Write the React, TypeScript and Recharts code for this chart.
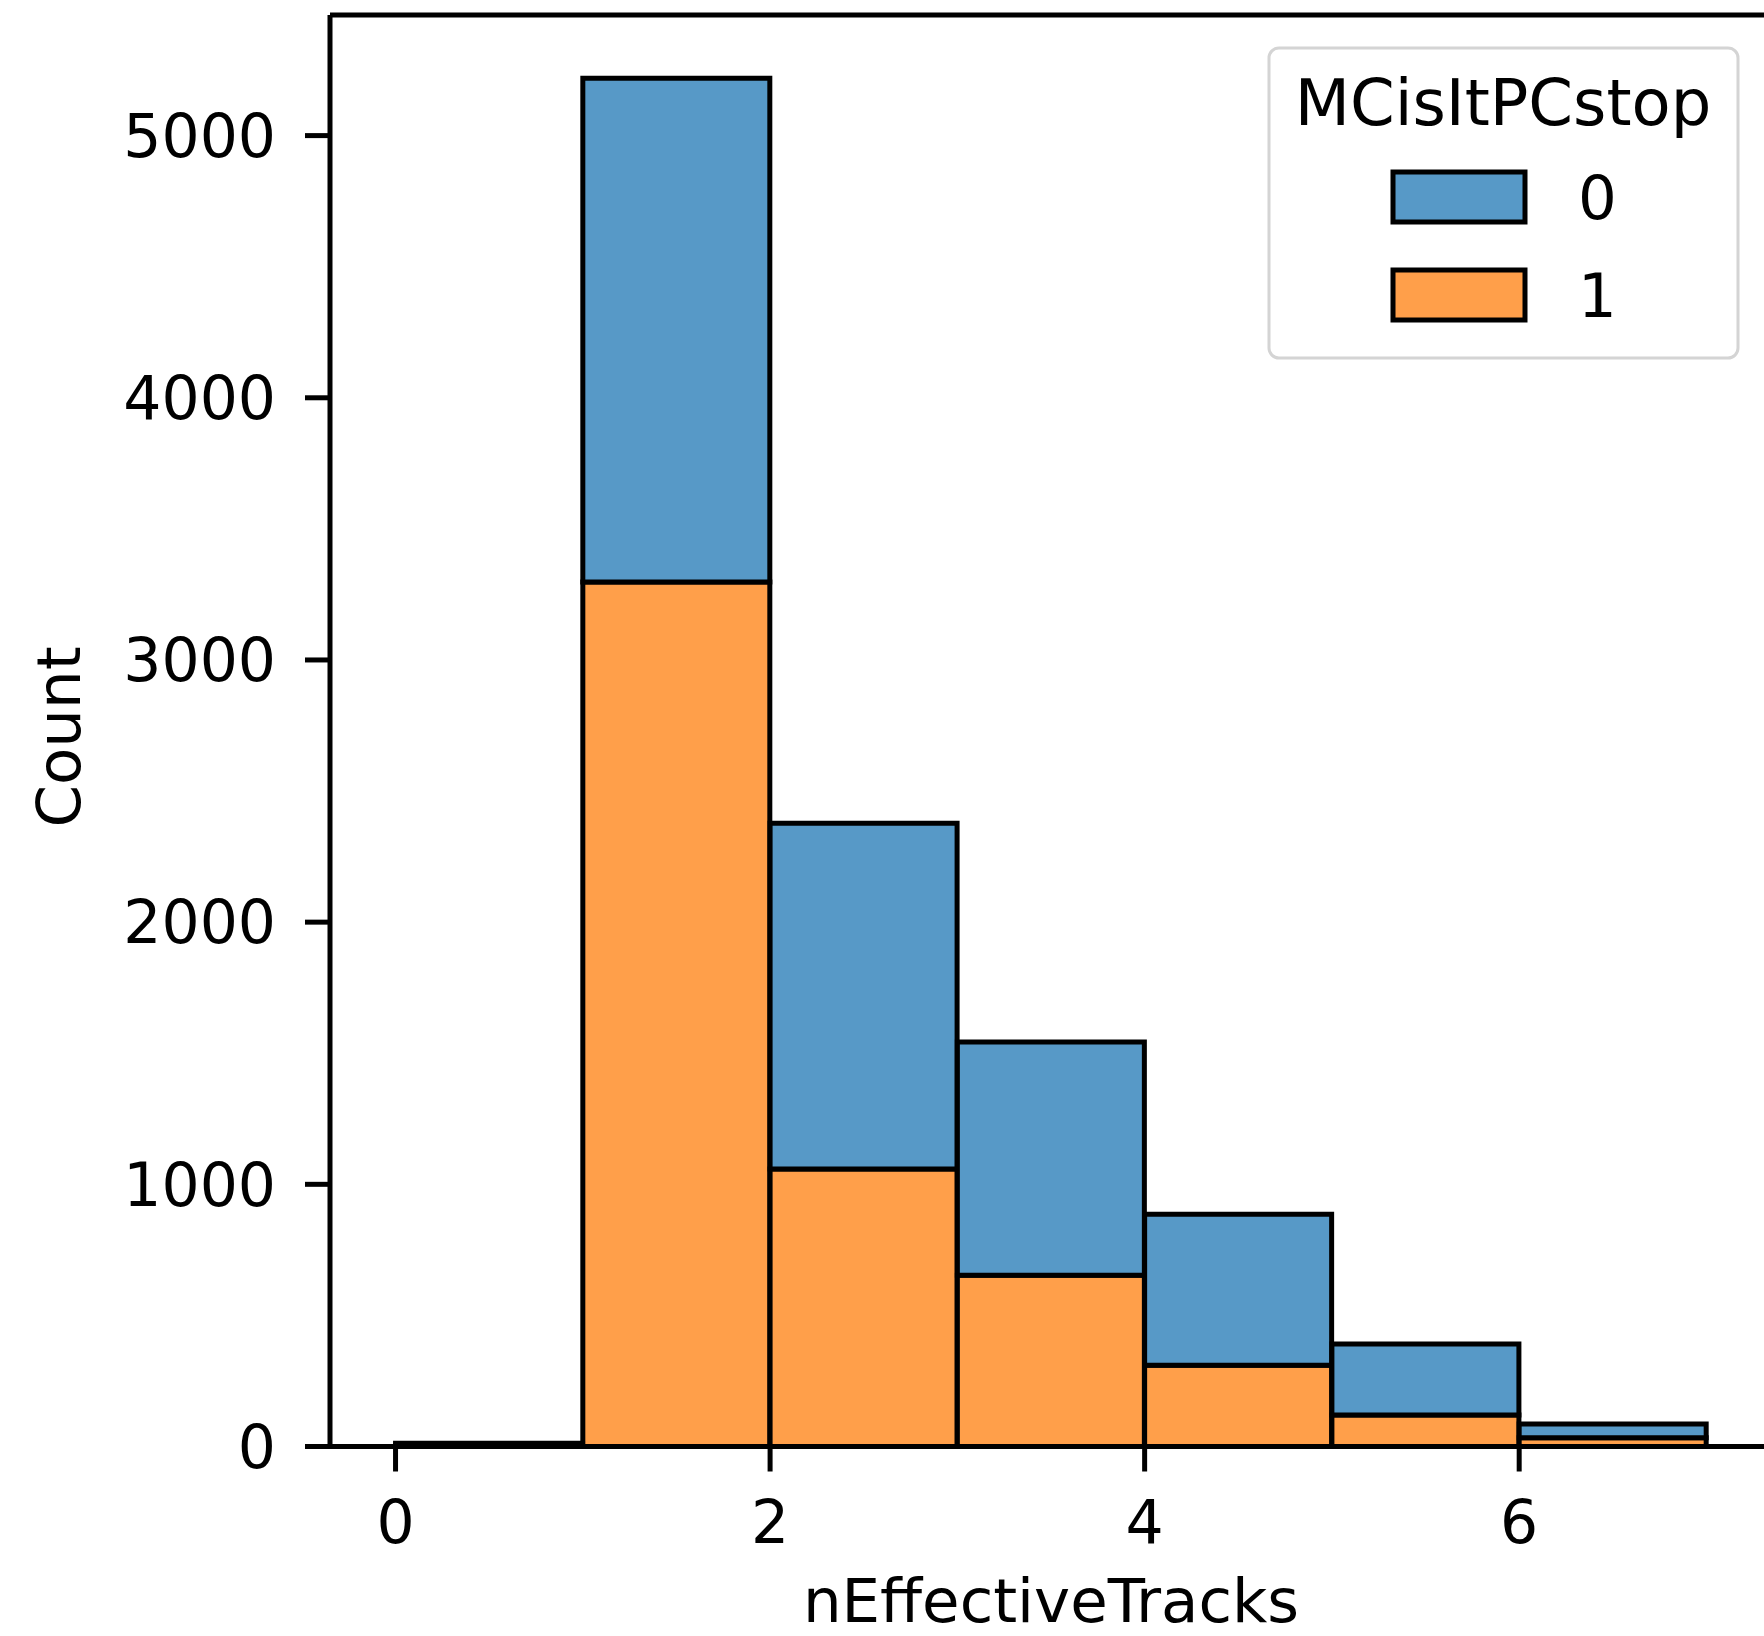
import { Bar, BarChart, ReferenceLine, XAxis, YAxis } from 'recharts';

// histogram bins (centres) for nEffectiveTracks, width 1
const binCenters = [0.5, 1.5, 2.5, 3.5, 4.5, 5.5, 6.5];
const countStop0 = [9, 1922, 1319, 890, 576, 271, 53];
const countStop1 = [3, 3297, 1058, 653, 310, 120, 33];
const xTicks = [0, 2, 4, 6];
const yTicks = [0, 1000, 2000, 3000, 4000, 5000];
const legendItems = [
  { label: '0', color: '#5799c7' },
  { label: '1', color: '#ff9f4a' },
];

const data = binCenters.map((x, i) => ({ x, stop0: countStop0[i], stop1: countStop1[i] }));

const FONT = '"DejaVu Sans", sans-serif';
const X_DOMAIN: [number, number] = [-0.35, 7.35];
const Y_MAX = 5460;

function CountLabel() {
  return (
    <text x={58} y={737} transform="rotate(-90 58 737)" textAnchor="middle" dominantBaseline="central"
      fontFamily={FONT} fontSize={61} fill="#000">
      Count
    </text>
  );
}

function LegendBox() {
  return (
    <svg width={1764} height={1636} style={{ position: 'absolute', left: 0, top: 0, pointerEvents: 'none' }}>
      <rect x={1269} y={48} width={469} height={310} rx={10} fill="#fff" fillOpacity={0.8} stroke="#d4d4d4" strokeWidth={3} />
      <text x={1503} y={125} textAnchor="middle" fontFamily={FONT} fontSize={64} fill="#000">MCisItPCstop</text>
      {legendItems.map((item, i) => (
        <g key={item.label}>
          <rect x={1393} y={172 + i * 98} width={132} height={50} fill={item.color} stroke="#000" strokeWidth={5} />
          <text x={1578} y={219 + i * 98} fontFamily={FONT} fontSize={61} fill="#000">{item.label}</text>
        </g>
      ))}
    </svg>
  );
}

export default function App() {
  const tickStyle = { fontFamily: FONT, fontSize: 60, fill: '#000' };
  return (
    <div style={{ position: 'absolute', left: 0, top: 0, width: 1764, height: 1636, overflow: 'hidden', background: '#fff' }}>
      <BarChart width={1780} height={1636} data={data} barCategoryGap={0} barGap={0}
        margin={{ top: 15, right: 8, bottom: 0, left: 0 }}>
        <XAxis dataKey="x" type="number" domain={X_DOMAIN} ticks={xTicks} allowDataOverflow
          padding={{ left: 0, right: 0 }} height={189.5}
          axisLine={{ stroke: '#000', strokeWidth: 5 }} tickLine={{ stroke: '#000', strokeWidth: 5 }}
          tickSize={25} tickMargin={29} tick={tickStyle}
          label={{ value: 'nEffectiveTracks', position: 'insideBottom', offset: 14, fontFamily: FONT, fontSize: 61, fill: '#000' }} />
        <YAxis type="number" domain={[0, Y_MAX]} ticks={yTicks} allowDataOverflow width={330}
          axisLine={{ stroke: '#000', strokeWidth: 5 }} tickLine={{ stroke: '#000', strokeWidth: 5 }}
          tickSize={25} tickMargin={29} tick={tickStyle}
          label={<CountLabel />} />
        <Bar dataKey="stop1" stackId="h" fill="#ff9f4a" stroke="#000" strokeWidth={5} isAnimationActive={false} />
        <Bar dataKey="stop0" stackId="h" fill="#5799c7" stroke="#000" strokeWidth={5} isAnimationActive={false} />
        <ReferenceLine y={Y_MAX} stroke="#000" strokeWidth={5} />
        <ReferenceLine x={X_DOMAIN[1]} stroke="#000" strokeWidth={5} />
      </BarChart>
      <LegendBox />
    </div>
  );
}
